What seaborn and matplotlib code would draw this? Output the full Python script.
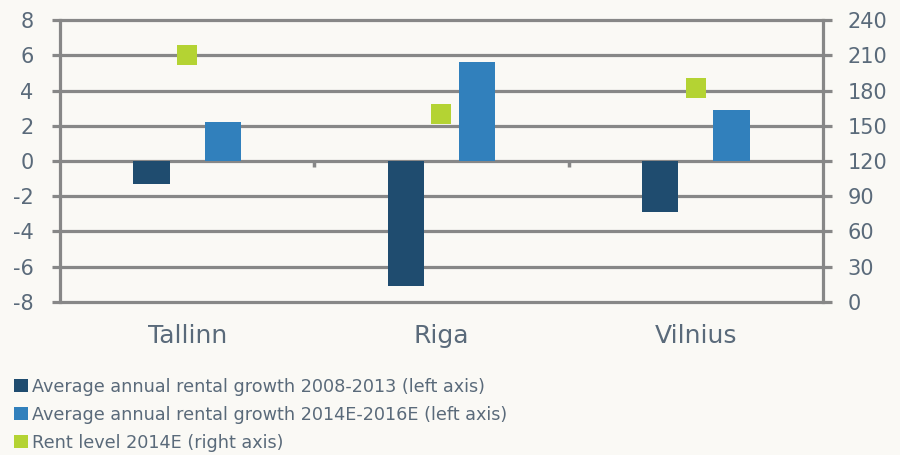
import matplotlib
matplotlib.use("Agg")
import matplotlib.pyplot as plt
from matplotlib.patches import Patch
import seaborn as sns
import pandas as pd

# --- data ---------------------------------------------------------------
cities = ["Tallinn", "Riga", "Vilnius"]
growth_2008_2013 = [-1.3, -7.1, -2.9]     # % per year, left axis
growth_2014_2016 = [2.2, 5.6, 2.9]        # % per year, left axis
rent_level_2014 = [210, 160, 182]         # EUR/sqm/yr, right axis

series_names = [
    "Average annual rental growth 2008-2013 (left axis)",
    "Average annual rental growth 2014E-2016E (left axis)",
    "Rent level 2014E (right axis)",
]
left_ticks = [-8, -6, -4, -2, 0, 2, 4, 6, 8]
right_ticks = [0, 30, 60, 90, 120, 150, 180, 210, 240]

# --- style --------------------------------------------------------------
BG = "#FAF9F5"
GRID = "#878787"
TEXT = "#5A6A7A"
DARK = "#1F4C6F"
LIGHT = "#3180BC"
GREEN = "#B4D333"

sns.set_theme(style="white")
plt.rcParams["font.family"] = ["DejaVu Sans"]

growth = pd.DataFrame({
    "city": cities * 2,
    "series": [series_names[0]] * 3 + [series_names[1]] * 3,
    "value": growth_2008_2013 + growth_2014_2016,
})
rent = pd.DataFrame({"city": cities, "rent": rent_level_2014})

fig = plt.figure(figsize=(9, 4.55), dpi=100, facecolor=BG)
ax = fig.add_axes([0.0667, 0.3363, 0.8477, 0.6197])
ax.set_facecolor(BG)

sns.barplot(data=growth, x="city", y="value", hue="series",
            palette={series_names[0]: DARK, series_names[1]: LIGHT},
            saturation=1, width=0.56, gap=0.49, linewidth=0, legend=False,
            ax=ax, zorder=2)

ax.set_xlim(-0.5, 2.5)
ax.set_ylim(-8, 8)
ax.set_yticks(left_ticks)
ax.set_yticklabels([str(t) for t in left_ticks])
ax.set_xlabel("")
ax.set_ylabel("")

# horizontal rules at every tick, left and right spines as axis posts
ax.yaxis.grid(True, color=GRID, linewidth=2.3, zorder=0)
ax.set_axisbelow(True)
for gl in ax.get_ygridlines():
    gl.set_clip_on(False)
for side in ["top", "bottom", "right"]:
    ax.spines[side].set_visible(False)
ax.spines["left"].set_color(GRID)
ax.spines["left"].set_linewidth(2.3)
ax.tick_params(axis="y", direction="out", length=6, width=2.3, color=GRID,
               labelsize=15, labelcolor=TEXT, pad=13)
ax.tick_params(axis="x", length=0, labelsize=18, labelcolor=TEXT, pad=16)

# right axis: rent level markers
ax2 = ax.twinx()
sns.scatterplot(data=rent, x="city", y="rent", marker="s", s=200,
                color=GREEN, linewidth=0, legend=False, ax=ax2, zorder=3)
ax2.set_xlim(-0.5, 2.5)
ax2.set_ylim(0, 240)
ax2.set_yticks(right_ticks)
ax2.set_yticklabels([str(t) for t in right_ticks])
ax2.set_ylabel("")
for side in ["top", "bottom", "left"]:
    ax2.spines[side].set_visible(False)
ax2.spines["right"].set_color(GRID)
ax2.spines["right"].set_linewidth(2.3)
ax2.tick_params(axis="y", direction="out", length=6.5, width=2.3, color=GRID,
                labelsize=15, labelcolor=TEXT, pad=11)

# category separators hanging from the zero line
sep = ax.secondary_xaxis(0.5)
sep.set_xticks([0.5, 1.5])
sep.set_xticklabels([])
sep.tick_params(axis="x", direction="in", length=4.5, width=2.5, color=GRID)
for s in sep.spines.values():
    s.set_visible(False)

handles = [Patch(facecolor=c, edgecolor="none") for c in (DARK, LIGHT, GREEN)]
fig.legend(handles, series_names, loc="upper left",
           bbox_to_anchor=(0.016, 0.17), frameon=False, fontsize=12.7,
           labelcolor=TEXT, handlelength=0.78, handleheight=0.78,
           handletextpad=0.2, labelspacing=0.57, borderpad=0,
           borderaxespad=0)

fig.savefig("out.png", dpi=100, facecolor=BG)
